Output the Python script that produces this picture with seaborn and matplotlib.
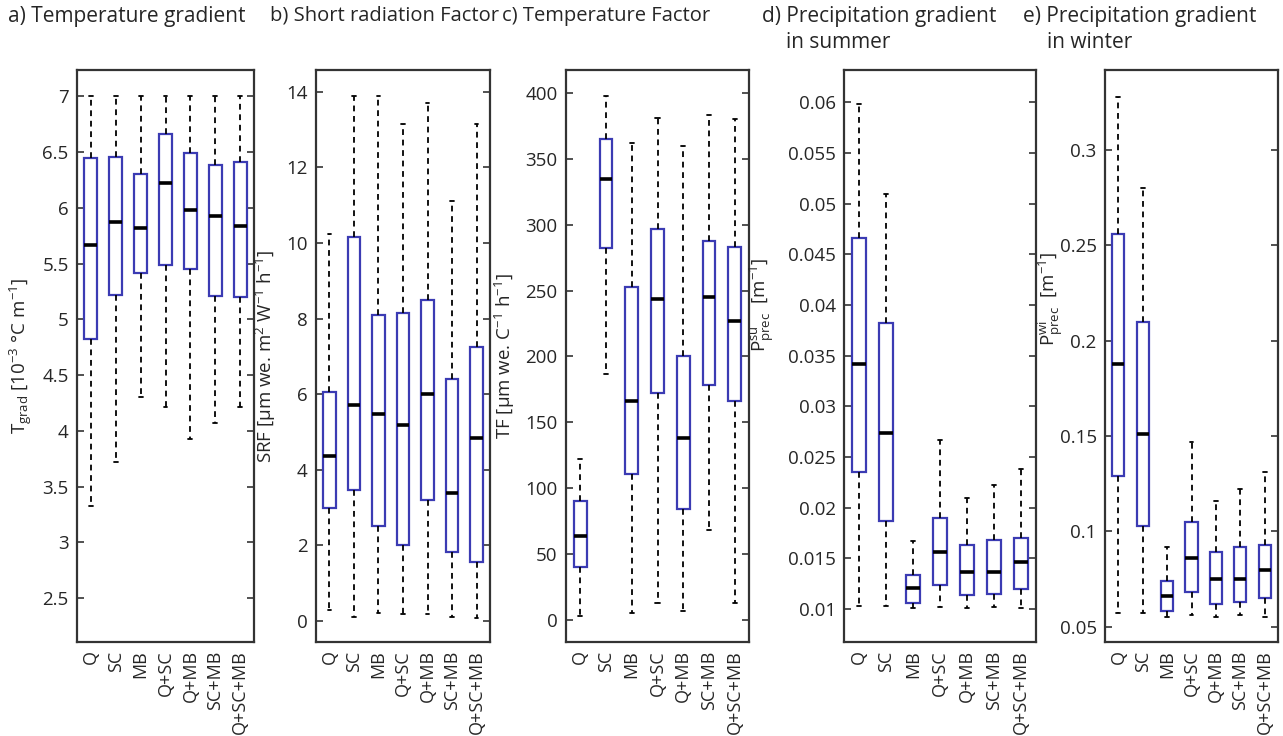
import numpy as np
import pandas as pd
import matplotlib
matplotlib.use("Agg")
import matplotlib.pyplot as plt
import seaborn as sns
from matplotlib.ticker import FixedLocator, FuncFormatter

# ---------------- data (five-number summaries: low whisker, q1, median, q3, high whisker)
categories = ["Q", "SC", "MB", "Q+SC", "Q+MB", "SC+MB", "Q+SC+MB"]

t_grad = [
    [3.33, 4.82, 5.67, 6.45, 7.00],
    [3.72, 5.22, 5.87, 6.46, 7.00],
    [4.30, 5.42, 5.82, 6.30, 7.00],
    [4.21, 5.49, 6.22, 6.66, 7.00],
    [3.93, 5.45, 5.98, 6.49, 7.00],
    [4.07, 5.21, 5.93, 6.38, 7.00],
    [4.21, 5.20, 5.84, 6.41, 7.00],
]
srf = [
    [0.30, 3.00, 4.35, 6.05, 10.25],
    [0.10, 3.45, 5.72, 10.15, 13.90],
    [0.20, 2.50, 5.47, 8.10, 13.90],
    [0.18, 2.00, 5.18, 8.15, 13.15],
    [0.18, 3.20, 6.00, 8.50, 13.70],
    [0.10, 1.82, 3.38, 6.40, 11.10],
    [0.08, 1.55, 4.85, 7.25, 13.15],
]
tf = [
    [3, 40, 64, 90, 122],
    [187, 282, 335, 365, 398],
    [5, 111, 166, 253, 362],
    [13, 172, 244, 297, 381],
    [7, 84, 138, 200, 360],
    [68, 178, 245, 288, 383],
    [13, 166, 227, 283, 380],
]
p_summer = [
    [0.0103, 0.0235, 0.0342, 0.0466, 0.0598],
    [0.0103, 0.0187, 0.0274, 0.0382, 0.0510],
    [0.0101, 0.0106, 0.0121, 0.0134, 0.0167],
    [0.0102, 0.0124, 0.0156, 0.0190, 0.0267],
    [0.0101, 0.0114, 0.0137, 0.0163, 0.0210],
    [0.0102, 0.0115, 0.0137, 0.0168, 0.0222],
    [0.0101, 0.0120, 0.0146, 0.0170, 0.0238],
]
p_winter = [
    [0.057, 0.129, 0.188, 0.256, 0.328],
    [0.057, 0.103, 0.151, 0.210, 0.280],
    [0.055, 0.058, 0.066, 0.074, 0.092],
    [0.056, 0.068, 0.086, 0.105, 0.147],
    [0.055, 0.062, 0.075, 0.089, 0.116],
    [0.056, 0.063, 0.075, 0.092, 0.122],
    [0.055, 0.065, 0.080, 0.093, 0.131],
]

titles = [
    ["a) Temperature gradient"],
    ["b) Short radiation Factor"],
    ["c) Temperature Factor"],
    ["d) Precipitation gradient", "in summer"],
    ["e) Precipitation gradient", "in winter"],
]
ylabels = [
    r"T$_{\mathrm{grad}}$ [10$^{-3}$ °C m$^{-1}$]",
    r"SRF [µm we. m$^{2}$ W$^{-1}$ h$^{-1}$]",
    r"TF [µm we. C$^{-1}$ h$^{-1}$]",
    r"P$^{\mathrm{su}}_{\mathrm{prec}}$  [m$^{-1}$]",
    r"P$^{\mathrm{wi}}_{\mathrm{prec}}$  [m$^{-1}$]",
]
yticks = [
    [2.5, 3, 3.5, 4, 4.5, 5, 5.5, 6, 6.5, 7],
    [0, 2, 4, 6, 8, 10, 12, 14],
    [0, 50, 100, 150, 200, 250, 300, 350, 400],
    [0.01, 0.015, 0.02, 0.025, 0.03, 0.035, 0.04, 0.045, 0.05, 0.055, 0.06],
    [0.05, 0.1, 0.15, 0.2, 0.25, 0.3],
]
ylims = [(2.107, 7.236), (-0.56, 14.58), (-16.8, 417.5), (0.00675, 0.0632), (0.042, 0.342)]
datasets = [t_grad, srf, tf, p_summer, p_winter]

# ---------------- style
sns.set_theme(style="ticks")
plt.rcParams["font.family"] = ["Open Sans", "DejaVu Sans"]
plt.rcParams["mathtext.fontset"] = "custom"
plt.rcParams["mathtext.rm"] = "Open Sans"
plt.rcParams["mathtext.it"] = "Open Sans:italic"
plt.rcParams["mathtext.bf"] = "Open Sans:bold"

W, H = 1283, 736
fig = plt.figure(figsize=(W / 100, H / 100), dpi=100)

# axes extents in pixels (left, right)
x_ext = [(77, 254), (316, 490), (566, 749), (844, 1036), (1105, 1278)]
top_px, bot_px = 70, 642
title_x = [8, 270, 502, 762, 1023]
title_size = [15, 14.5, 14.5, 15, 15]
# special y-label placement for panels d and e (right edge x in px from axes left, y frac)
label_pos = {3: (-68, 0.59), 4: (-40, 0.60)}

blue = "#3b3bb3"
for i, data in enumerate(datasets):
    l, r = x_ext[i]
    ax = fig.add_axes([l / W, 1 - bot_px / H, (r - l) / W, (bot_px - top_px) / H])
    rows = []
    for cat, vals in zip(categories, data):
        for v in vals:
            rows.append((cat, v))
    df = pd.DataFrame(rows, columns=["model", "value"])
    sns.boxplot(
        data=df, x="model", y="value", order=categories, ax=ax,
        whis=(0, 100), width=0.5, fill=True, color="white",
        boxprops=dict(edgecolor=blue, facecolor="white", linewidth=1.6),
        medianprops=dict(color="black", linewidth=2.6),
        whiskerprops=dict(color="black", linewidth=1.3, linestyle=(0, (3.2, 2.6))),
        capprops=dict(color="black", linewidth=1.3),
        capwidths=0.16,
        showfliers=False,
    )
    ax.set_ylim(*ylims[i])
    ax.set_xlim(-0.55, 6.55)
    ax.yaxis.set_major_locator(FixedLocator(yticks[i]))
    ax.yaxis.set_major_formatter(FuncFormatter(lambda v, p: f"{v:g}"))
    ax.tick_params(axis="y", direction="in", left=True, right=True, length=5,
                   width=1.2, labelsize=13.5, color="#333333", pad=6)
    ax.tick_params(axis="x", length=0, labelsize=13, rotation=90, pad=6)
    ax.set_xlabel("")
    ax.set_ylabel(ylabels[i], fontsize=13.5, labelpad=6)
    for s in ax.spines.values():
        s.set_visible(True)
        s.set_linewidth(1.6)
        s.set_color("#333333")
    if i in label_pos:
        dx, fy = label_pos[i]
        ax.yaxis.set_label_coords(dx / (r - l), fy)
    # titles
    fig.text(title_x[i] / W, 1 - 6 / H, titles[i][0], fontsize=title_size[i], va="top", ha="left")
    if len(titles[i]) > 1:
        fig.text((title_x[i] + 24) / W, 1 - 32 / H, titles[i][1], fontsize=title_size[i],
                 va="top", ha="left")

fig.savefig("out.png", dpi=100)
